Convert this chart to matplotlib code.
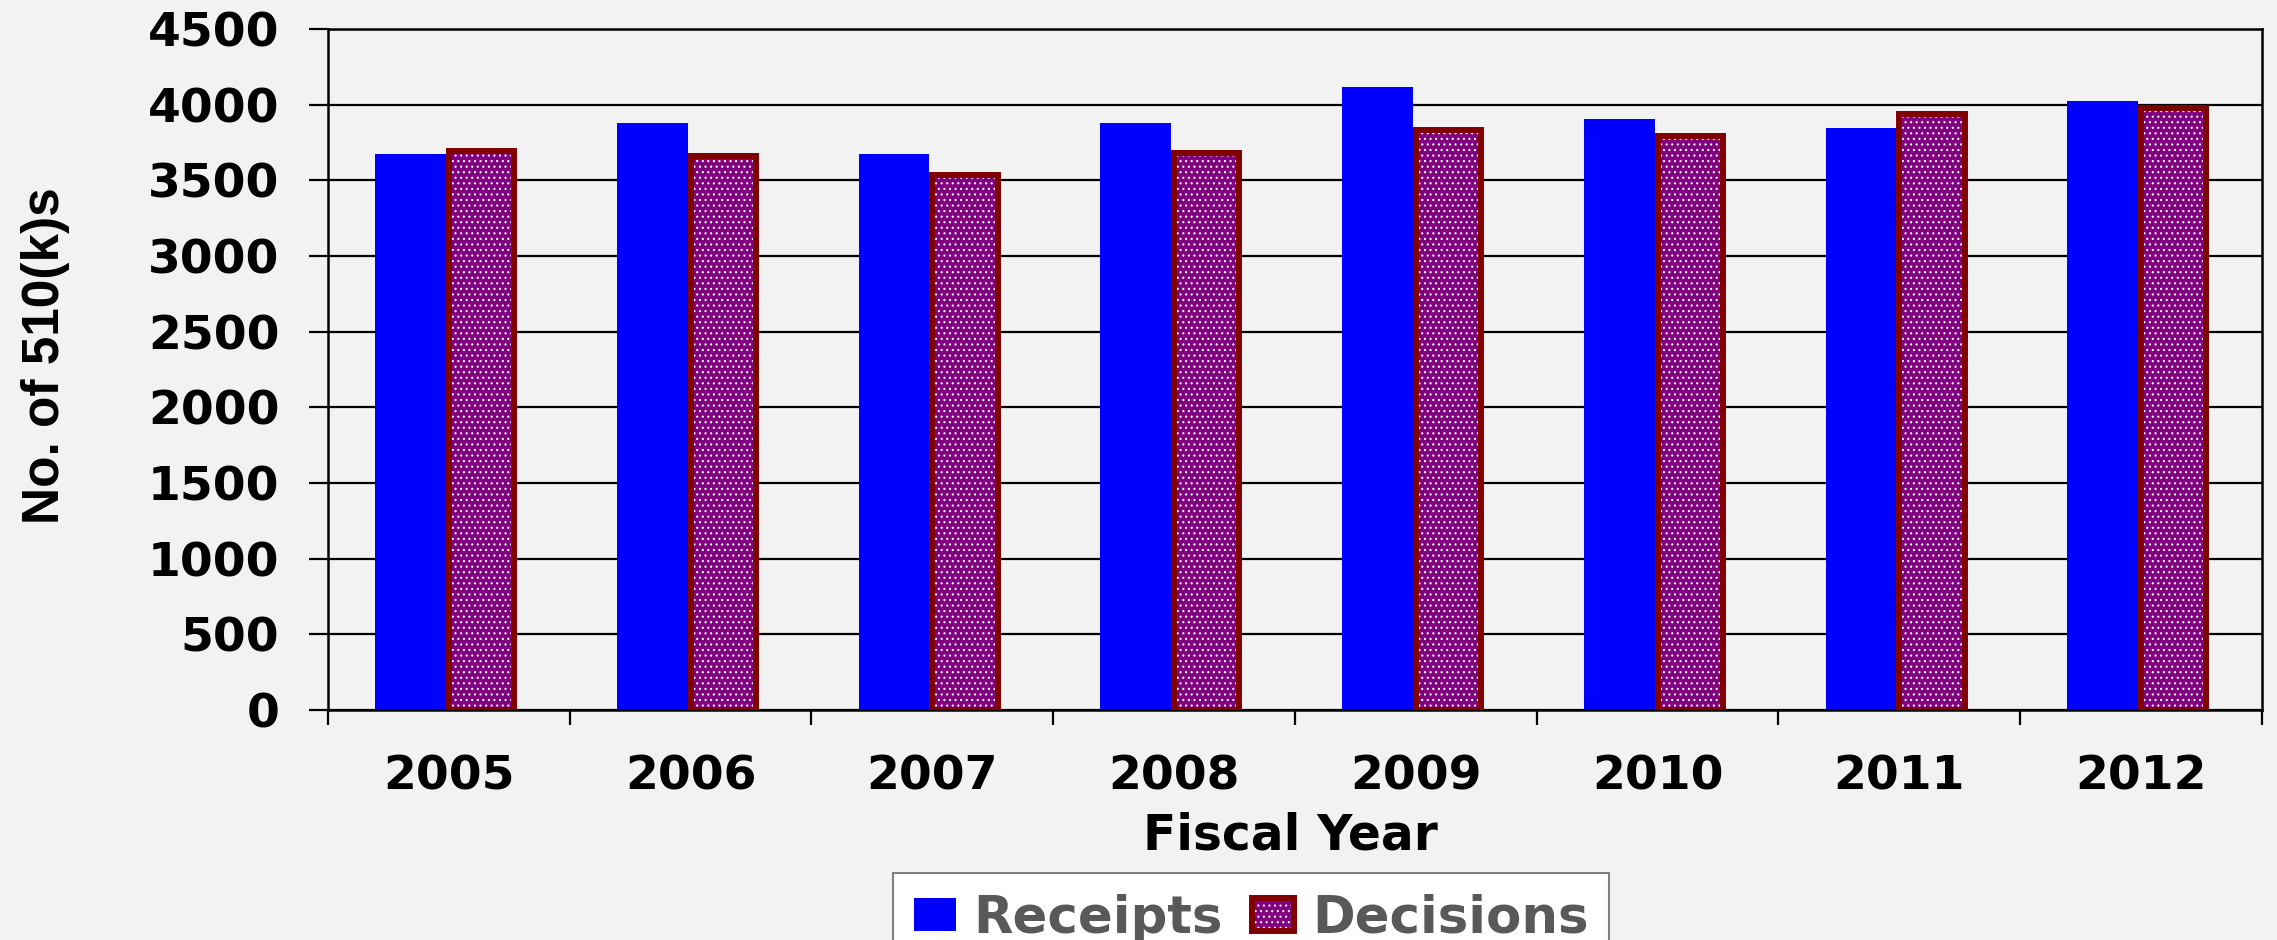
import numpy as np
import matplotlib
matplotlib.use('Agg')
from matplotlib import pyplot as plt

# values
years = ['2005', '2006', '2007', '2008', '2009', '2010', '2011', '2012']
receipts = [3672, 3877, 3673, 3877, 4115, 3902, 3849, 4021]
decisions = [3692, 3664, 3534, 3679, 3833, 3792, 3939, 3978]
yticks = [0, 500, 1000, 1500, 2000, 2500, 3000, 3500, 4000, 4500]

bg = '#f2f2f2'
plt.rcParams['hatch.linewidth'] = 0.8

fig = plt.figure(figsize=(22.77, 9.4), dpi=100, facecolor=bg)
ax = fig.add_axes([328 / 2277, 1 - 710 / 940, (2262 - 328) / 2277, (710 - 29) / 940])
ax.set_facecolor(bg)

x = np.arange(len(years))
r = ax.bar(x - 0.1585, receipts, 0.293, color='#0000ff', linewidth=0, zorder=2)
d1 = ax.bar(x + 0.135, decisions, 0.27, color='#800080', edgecolor='white',
            linewidth=0, hatch='...', zorder=3)
d2 = ax.bar(x + 0.135, decisions, 0.27, fill=False, edgecolor='#800000',
            linewidth=4.3, zorder=4)

ax.set_xlim(-0.5, len(years) - 0.5)
ax.set_ylim(0, 4500)
ax.set_yticks(yticks)
ax.set_axisbelow(True)
ax.yaxis.grid(True, color='black', linewidth=1.6)

tick_font = dict(family='DejaVu Sans', weight='bold', size=34)
ax.set_yticklabels([str(v) for v in yticks], fontdict=tick_font)
ax.set_xticks(x)
ax.set_xticklabels(years, fontdict=tick_font)
ax.set_xticks(np.arange(len(years) + 1) - 0.5, minor=True)
ax.tick_params(axis='x', which='major', length=0, pad=32)
ax.tick_params(axis='x', which='minor', length=11, width=1.6, direction='out')
ax.tick_params(axis='y', length=14, width=1.6, pad=21)

for s in ax.spines.values():
    s.set_linewidth(1.8)
    s.set_color('black')

fig.text(46 / 2277, 1 - 356 / 940, 'No. of 510(k)s', rotation=90, ha='center', va='center',
         family='Liberation Sans', weight='bold', size=37)
fig.text(1290 / 2277, 1 - 836 / 940, 'Fiscal Year', ha='center', va='center',
         family='DejaVu Sans', weight='bold', size=35)

leg = fig.legend([r, (d1, d2)], ['Receipts', 'Decisions'], loc='upper center',
                 bbox_to_anchor=(1251 / 2277, 1 - 873 / 940), ncol=2,
                 prop=dict(family='DejaVu Sans', weight='bold', size=37),
                 handlelength=0.82, handleheight=0.62, handletextpad=0.35,
                 columnspacing=0.56, borderpad=0.4, borderaxespad=0, fancybox=False,
                 frameon=True, edgecolor='#808080', facecolor='white', framealpha=1)
leg.get_frame().set_linewidth(1.5)
for t in leg.get_texts():
    t.set_color('#595959')

fig.savefig('out.png', dpi=100, facecolor=bg)
